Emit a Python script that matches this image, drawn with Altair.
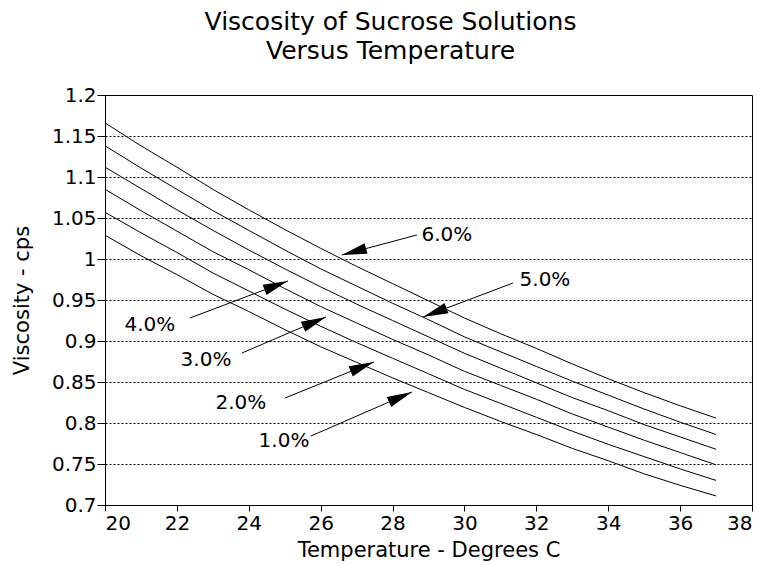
import math
import altair as alt
import pandas as pd

# Temperatures (deg C)
temps = list(range(20, 38))

# Viscosity (cps) for each sucrose concentration
visc_1 = [1.029, 1.004, 0.981, 0.957, 0.936, 0.914, 0.893, 0.874, 0.855, 0.837,
          0.819, 0.802, 0.786, 0.769, 0.754, 0.738, 0.724, 0.711]
visc_2 = [1.057, 1.032, 1.008, 0.983, 0.961, 0.939, 0.918, 0.898, 0.879, 0.860,
          0.841, 0.824, 0.807, 0.790, 0.774, 0.759, 0.744, 0.730]
visc_3 = [1.085, 1.059, 1.034, 1.009, 0.987, 0.964, 0.942, 0.922, 0.902, 0.883,
          0.863, 0.846, 0.829, 0.811, 0.795, 0.779, 0.764, 0.749]
visc_4 = [1.112, 1.086, 1.060, 1.035, 1.011, 0.988, 0.966, 0.945, 0.925, 0.905,
          0.885, 0.867, 0.849, 0.831, 0.815, 0.798, 0.783, 0.768]
visc_5 = [1.138, 1.111, 1.085, 1.059, 1.035, 1.011, 0.988, 0.967, 0.946, 0.926,
          0.905, 0.887, 0.869, 0.851, 0.834, 0.817, 0.801, 0.786]
visc_6 = [1.166, 1.138, 1.112, 1.085, 1.060, 1.036, 1.013, 0.991, 0.970, 0.949,
          0.928, 0.909, 0.891, 0.872, 0.854, 0.837, 0.821, 0.806]

series_names = ["1.0%", "2.0%", "3.0%", "4.0%", "5.0%", "6.0%"]
series_values = [visc_1, visc_2, visc_3, visc_4, visc_5, visc_6]

# Annotation arrows (data coordinates)
ann_labels = ["6.0%", "5.0%", "4.0%", "3.0%", "2.0%", "1.0%"]
ann_tail_t = [28.68, 31.35, 22.36, 23.81, 25.01, 25.73]
ann_tail_v = [1.0293, 0.9707, 0.9280, 0.8854, 0.8305, 0.7841]
ann_tip_t = [26.59, 28.85, 25.09, 26.15, 27.48, 28.54]
ann_tip_v = [1.0049, 0.9293, 0.9732, 0.9293, 0.8744, 0.8378]
ann_text_t = [29.51, 32.24, 21.25, 22.81, 23.78, 24.98]
ann_text_v = [1.0293, 0.9744, 0.9195, 0.8768, 0.8244, 0.7780]

x_ticks = list(range(20, 39, 2))
y_ticks = [0.7, 0.75, 0.8, 0.85, 0.9, 0.95, 1.0, 1.05, 1.1, 1.15, 1.2]

W, H = 647, 410
X_DOM = [20, 38]
Y_DOM = [0.7, 1.2]
FONT = "DejaVu Sans"

rows = []
for name, vals in zip(series_names, series_values):
    for t, v in zip(temps, vals):
        rows.append({"series": name, "temp": t, "visc": v})
df = pd.DataFrame(rows)

px_t = W / (X_DOM[1] - X_DOM[0])
px_v = H / (Y_DOM[1] - Y_DOM[0])
ann_rows = []
for i in range(len(ann_labels)):
    dx = (ann_tip_t[i] - ann_tail_t[i]) * px_t
    dy = -(ann_tip_v[i] - ann_tail_v[i]) * px_v
    ang = math.degrees(math.atan2(dx, -dy)) % 360
    ann_rows.append({
        "label": ann_labels[i],
        "t0": ann_tail_t[i], "v0": ann_tail_v[i],
        "t1": ann_tip_t[i], "v1": ann_tip_v[i],
        "tt": ann_text_t[i], "tv": ann_text_v[i],
        "angle": ang,
    })
ann = pd.DataFrame(ann_rows)

xs = alt.Scale(domain=X_DOM, nice=False, zero=False)
ys = alt.Scale(domain=Y_DOM, nice=False, zero=False)

lines = alt.Chart(df).mark_line(color="black", strokeWidth=1).encode(
    x=alt.X("temp:Q", scale=xs,
            axis=alt.Axis(values=x_ticks, title="Temperature - Degrees C",
                          grid=False, format="d", titlePadding=6,
                          tickSize=6, labelPadding=2)),
    y=alt.Y("visc:Q", scale=ys,
            axis=alt.Axis(values=y_ticks, title="Viscosity - cps", format="~g",
                          grid=True, gridColor="black", gridDash=[2, 2],
                          gridWidth=1, titlePadding=19,
                          tickSize=8, labelPadding=1)),
    detail="series:N",
)

rules = alt.Chart(ann).mark_rule(color="black", strokeWidth=1).encode(
    x="t0:Q", y="v0:Q", x2="t1:Q", y2="v1:Q"
)

head_path = "M0,0 L0.44,2 L-0.44,2 Z"
heads = alt.Chart(ann).mark_point(
    shape=head_path, filled=True, color="black", opacity=1, size=625, strokeWidth=0
).encode(
    x="t1:Q", y="v1:Q", angle=alt.Angle("angle:Q", scale=None)
)

labels = alt.Chart(ann).mark_text(
    font=FONT, fontSize=20, color="black", align="center", baseline="middle"
).encode(x="tt:Q", y="tv:Q", text="label:N")

chart = alt.layer(lines, rules, heads, labels).properties(
    width=W, height=H,
    background="white",
    title=alt.TitleParams(
        text=["Viscosity of Sucrose Solutions", "Versus Temperature"],
        font=FONT, fontSize=25, fontWeight="normal", color="black",
        anchor="middle", dx=-38, offset=21, lineHeight=29,
    ),
    autosize=alt.AutoSizeParams(type="none"),
    padding={"left": 105, "top": 95, "right": 7, "bottom": 60},
).configure_view(
    stroke="black", strokeWidth=1
).configure_axis(
    domainColor="black", domainWidth=1, tickColor="black",
    labelColor="black", labelFont=FONT, labelFontSize=20,
    titleColor="black", titleFont=FONT, titleFontSize=21, titleFontWeight="normal",
)

chart.save("out.html", embed_options={"renderer": "svg", "actions": False})
